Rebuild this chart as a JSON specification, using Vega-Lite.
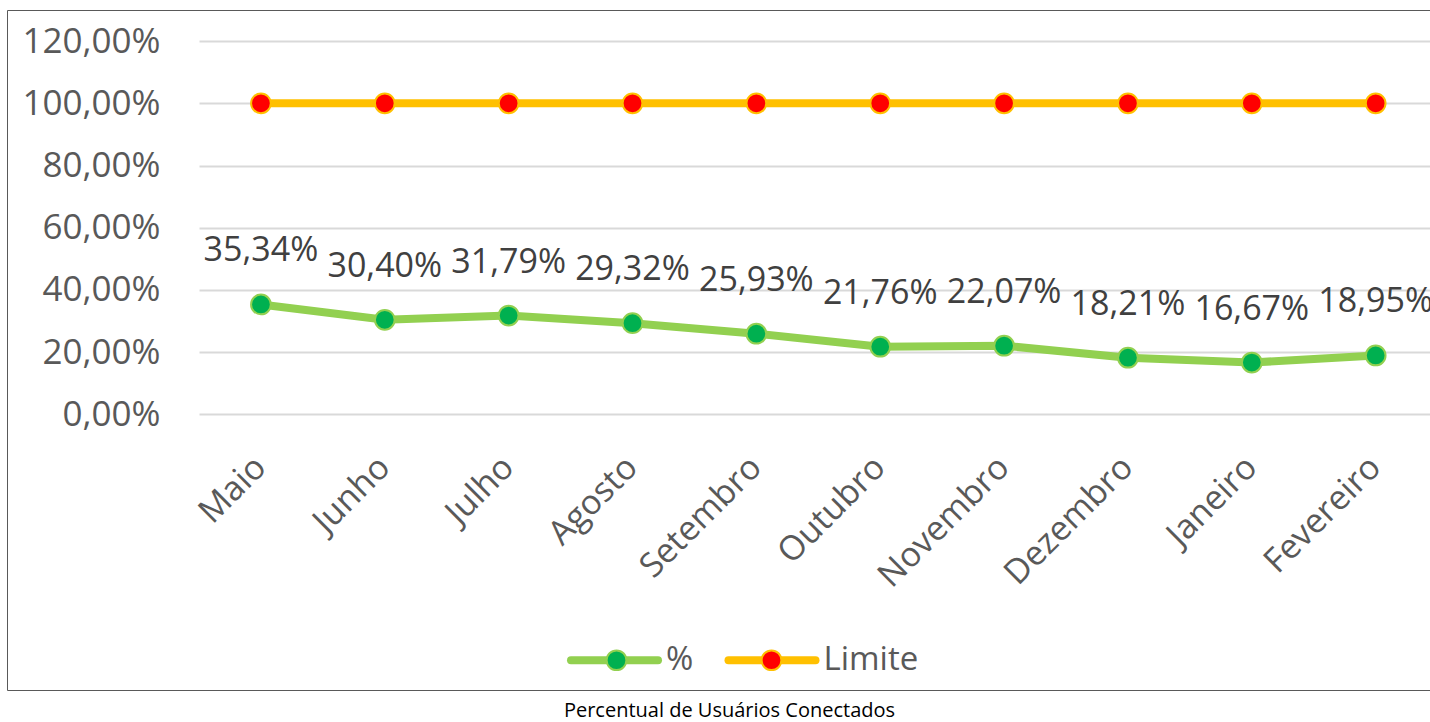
{
  "$schema": "https://vega.github.io/schema/vega-lite/v6.json",
  "width": 1425,
  "height": 680,
  "autosize": {"type": "none"},
  "padding": {"left": 7, "top": 10, "right": -2, "bottom": 32},
  "background": "white",
  "config": {
    "locale": {"number": {"decimal": ",", "thousands": ".", "grouping": [3], "currency": ["R$", ""]}},
    "view": {"stroke": "#595959", "strokeWidth": 1},
    "font": "Open Sans"
  },
  "title": {
    "text": "Percentual de Usuários Conectados",
    "orient": "bottom",
    "anchor": "middle",
    "font": "Open Sans",
    "fontSize": 20,
    "fontWeight": "normal",
    "color": "#000000",
    "offset": 11,
    "dx": 10
  },
  "data": {
    "values": [
      {"mes": "Maio", "serie": "%", "valor": 0.3534},
      {"mes": "Junho", "serie": "%", "valor": 0.3040},
      {"mes": "Julho", "serie": "%", "valor": 0.3179},
      {"mes": "Agosto", "serie": "%", "valor": 0.2932},
      {"mes": "Setembro", "serie": "%", "valor": 0.2593},
      {"mes": "Outubro", "serie": "%", "valor": 0.2176},
      {"mes": "Novembro", "serie": "%", "valor": 0.2207},
      {"mes": "Dezembro", "serie": "%", "valor": 0.1821},
      {"mes": "Janeiro", "serie": "%", "valor": 0.1667},
      {"mes": "Fevereiro", "serie": "%", "valor": 0.1895},
      {"mes": "Maio", "serie": "Limite", "valor": 1},
      {"mes": "Junho", "serie": "Limite", "valor": 1},
      {"mes": "Julho", "serie": "Limite", "valor": 1},
      {"mes": "Agosto", "serie": "Limite", "valor": 1},
      {"mes": "Setembro", "serie": "Limite", "valor": 1},
      {"mes": "Outubro", "serie": "Limite", "valor": 1},
      {"mes": "Novembro", "serie": "Limite", "valor": 1},
      {"mes": "Dezembro", "serie": "Limite", "valor": 1},
      {"mes": "Janeiro", "serie": "Limite", "valor": 1},
      {"mes": "Fevereiro", "serie": "Limite", "valor": 1}
    ]
  },
  "encoding": {
    "x": {
      "field": "mes",
      "type": "nominal",
      "sort": null,
      "scale": {"type": "band", "range": [192, 1430.6], "paddingInner": 0, "paddingOuter": 0},
      "axis": {
        "title": null,
        "orient": "bottom",
        "offset": -276,
        "labelAngle": -45,
        "labelAlign": "right",
        "labelBaseline": "middle",
        "labelPadding": 48,
        "ticks": false,
        "domain": false,
        "grid": false,
        "labelFontSize": 34,
        "labelColor": "#595959",
        "labelFont": "Open Sans",
        "labelOverlap": false,
        "labelLimit": 400
      }
    },
    "y": {
      "field": "valor",
      "type": "quantitative",
      "scale": {"domain": [-0.886, 1.3], "nice": false, "zero": false},
      "axis": {
        "title": null,
        "orient": "left",
        "offset": -192,
        "values": [0, 0.2, 0.4, 0.6, 0.8, 1, 1.2],
        "format": ".2%",
        "labelPadding": 39,
        "ticks": false,
        "domain": false,
        "grid": true,
        "gridColor": "#D9D9D9",
        "gridWidth": 2,
        "labelFontSize": 35,
        "labelColor": "#595959",
        "labelFont": "Open Sans"
      }
    }
  },
  "layer": [
    {
      "mark": {"type": "line", "strokeWidth": 8},
      "encoding": {
        "color": {
          "field": "serie",
          "type": "nominal",
          "scale": {"range": ["#92D050", "#FFC000"]},
          "legend": {
            "orient": "none",
            "legendX": 560,
            "legendY": 602.5,
            "direction": "horizontal",
            "title": null,
            "symbolType": "stroke",
            "symbolSize": 7569,
            "symbolStrokeWidth": 8,
            "labelFontSize": 33,
            "labelColor": "#595959",
            "labelFont": "Open Sans",
            "labelOffset": 4,
            "columnPadding": 18.5,
            "padding": 0,
            "zindex": 0,
            "encode": {"symbols": {"update": {"strokeCap": {"value": "round"}}}}
          }
        }
      }
    },
    {
      "mark": {"type": "point", "filled": true, "size": 390, "strokeWidth": 2, "opacity": 1},
      "encoding": {
        "fill": {
          "field": "serie",
          "type": "nominal",
          "scale": {"domain": ["%", "Limite"], "range": ["#00B050", "#FF0000"]},
          "legend": {
            "orient": "none",
            "legendX": 593,
            "legendY": 633.5,
            "direction": "horizontal",
            "title": null,
            "symbolType": "circle",
            "symbolSize": 390,
            "symbolStrokeWidth": 2,
            "symbolOpacity": 1,
            "labelFontSize": 33,
            "labelFont": "Open Sans",
            "labelExpr": "''",
            "labelOffset": 0,
            "columnPadding": 122,
            "padding": 0,
            "zindex": 1,
            "encode": {"symbols": {"update": {"stroke": {"signal": "datum.value === '%' ? '#92D050' : '#FFC000'"}}}}
          }
        },
        "stroke": {
          "field": "serie",
          "type": "nominal",
          "scale": {"domain": ["%", "Limite"], "range": ["#92D050", "#FFC000"]},
          "legend": null
        }
      }
    },
    {
      "transform": [{"filter": "datum.serie === '%'"}],
      "mark": {"type": "text", "dy": -43, "baseline": "alphabetic", "align": "center", "fontSize": 34, "color": "#404040", "font": "Open Sans"},
      "encoding": {"text": {"field": "valor", "type": "quantitative", "format": ".2%"}}
    }
  ]
}
